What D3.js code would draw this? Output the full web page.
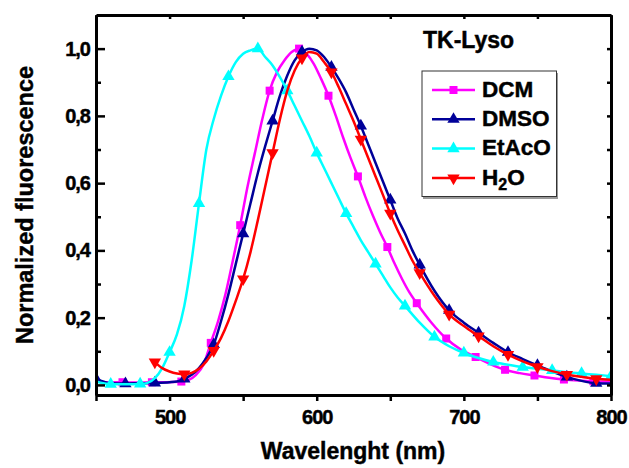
<!DOCTYPE html>
<html>
<head>
<meta charset="utf-8">
<script src="https://cdn.jsdelivr.net/npm/d3@7/dist/d3.min.js"></script>
<style>
  html, body { margin: 0; padding: 0; background: #fff; }
  svg { display: block; font-family: "Liberation Sans", Arial, sans-serif; }
  .heavy { stroke: #000; stroke-width: 0.45px; paint-order: stroke; }
</style>
</head>
<body>
<svg id="chart" width="629" height="468"></svg>
<script>
// Emission spectra of TK-Lyso in four solvents (normalized)
const dcmWl  = [450,458,468,478,488,498,508,513,518,523,528,533,538,543,548,553,558,563,568,573,578,583,588,593,598,603,608,613,618,623,628,633,638,643,648,653,658,663,668,678,688,698,708,718,728,738,748,758,768,778,788,800];
const dcmVal = [0.010,0.008,0.008,0.007,0.008,0.008,0.010,0.015,0.030,0.060,0.125,0.190,0.270,0.370,0.475,0.590,0.690,0.790,0.875,0.930,0.965,0.990,1.000,0.985,0.955,0.910,0.860,0.800,0.735,0.675,0.620,0.560,0.505,0.455,0.410,0.360,0.315,0.275,0.243,0.185,0.138,0.105,0.083,0.062,0.045,0.035,0.028,0.021,0.016,0.013,0.011,0.010];
const dcmMarks = [468,488,508,528,548,568,588,608,628,648,668,688,708,728,748,768,788];

const dmsoWl  = [450,460,470,480,490,500,505,510,515,520,525,530,535,540,545,550,555,560,565,570,575,580,585,590,595,600,605,610,615,620,625,630,635,640,645,650,655,660,665,670,680,690,700,710,720,730,740,750,760,770,780,790,800];
const dmsoVal = [0.018,0.005,0.004,0.005,0.006,0.008,0.010,0.018,0.030,0.050,0.080,0.120,0.190,0.270,0.360,0.450,0.540,0.630,0.710,0.785,0.860,0.920,0.965,0.990,1.000,0.995,0.975,0.945,0.910,0.870,0.820,0.770,0.715,0.660,0.605,0.550,0.495,0.450,0.400,0.357,0.280,0.222,0.185,0.155,0.125,0.097,0.077,0.058,0.040,0.024,0.012,0.005,0.004];
const dmsoMarks = [450,470,490,510,530,550,570,590,610,630,650,670,690,710,730,750,770,790];

const etacoWl  = [450,460,470,480,485,490,495,500,505,510,515,520,525,530,535,540,545,550,555,560,565,570,575,580,585,590,595,600,605,610,615,620,625,630,635,640,645,650,655,660,670,680,690,700,710,720,730,740,750,760,770,780,790,800];
const etacoVal = [0.010,0.002,0.002,0.003,0.006,0.020,0.050,0.097,0.150,0.235,0.370,0.540,0.700,0.790,0.860,0.917,0.960,0.985,0.995,1.000,0.975,0.950,0.915,0.875,0.830,0.785,0.740,0.690,0.645,0.600,0.555,0.510,0.470,0.430,0.395,0.360,0.325,0.290,0.260,0.235,0.185,0.143,0.115,0.095,0.080,0.068,0.060,0.053,0.048,0.043,0.038,0.034,0.030,0.026];
const etacoMarks = [460,480,500,520,540,560,580,600,620,640,660,680,700,720,740,760,780,800];

const h2oWl  = [490,495,500,505,510,515,520,525,530,535,540,545,550,555,560,565,570,575,580,585,590,595,600,605,610,615,620,625,630,635,640,645,650,655,660,665,670,680,690,700,710,720,730,740,750,760,770,780,790,800];
const h2oVal = [0.068,0.050,0.040,0.034,0.032,0.036,0.048,0.070,0.102,0.140,0.190,0.250,0.315,0.395,0.490,0.590,0.690,0.790,0.875,0.935,0.972,0.990,0.985,0.960,0.930,0.885,0.835,0.785,0.730,0.675,0.620,0.565,0.510,0.460,0.415,0.370,0.333,0.265,0.210,0.175,0.145,0.115,0.090,0.070,0.054,0.041,0.031,0.024,0.018,0.015];
const h2oMarks = [490,510,530,550,570,590,610,630,650,670,690,710,730,750,770,790];

const seriesNames = ["DCM", "DMSO", "EtAcO", "H2O"];

const xMajorTicks = [500, 600, 700, 800];
const xTickLabels = ["500", "600", "700", "800"];
const xMinorTicks = [450, 550, 650, 750];
const yMajorTicks = [0, 0.2, 0.4, 0.6, 0.8, 1.0];
const yTickLabels = ["0,0", "0,2", "0,4", "0,6", "0,8", "1,0"];
const yMinorTicks = [0.1, 0.3, 0.5, 0.7, 0.9];

// Layout
const svg = d3.select("#chart");
const L = 96, R = 611, T = 15, B = 395;
const x = d3.scaleLinear().domain([450, 800]).range([L, R]);
const y = d3.scaleLinear().domain([-0.03, 1.1]).range([B, T]);

const styles = {
  DCM:   { color: "#ff00ff", symbol: d3.symbolSquare,   size: 64, rot: 0 },
  DMSO:  { color: "#000099", symbol: d3.symbolTriangle, size: 66, rot: 0 },
  EtAcO: { color: "#00ffff", symbol: d3.symbolTriangle, size: 66, rot: 0 },
  H2O:   { color: "#ff0000", symbol: d3.symbolTriangle, size: 66, rot: 180 }
};

const series = [
  { name: "DCM",   wl: dcmWl,   val: dcmVal,   marks: dcmMarks },
  { name: "DMSO",  wl: dmsoWl,  val: dmsoVal,  marks: dmsoMarks },
  { name: "EtAcO", wl: etacoWl, val: etacoVal, marks: etacoMarks },
  { name: "H2O",   wl: h2oWl,   val: h2oVal,   marks: h2oMarks }
];

svg.append("defs").append("clipPath").attr("id", "plotClip")
  .append("rect").attr("x", L).attr("y", T).attr("width", R - L).attr("height", B - T);

const line = d3.line().x(d => x(d[0])).y(d => y(d[1])).curve(d3.curveMonotoneX);

const plot = svg.append("g").attr("clip-path", "url(#plotClip)");
series.forEach(s => {
  const st = styles[s.name];
  const pts = s.wl.map((w, i) => [w, s.val[i]]);
  plot.append("path").datum(pts)
    .attr("d", line)
    .attr("fill", "none")
    .attr("stroke", st.color)
    .attr("stroke-width", 2.5)
    .attr("stroke-linejoin", "round");
  const markPts = pts.filter(p => s.marks.includes(p[0]));
  plot.selectAll(null).data(markPts).enter().append("path")
    .attr("d", d3.symbol().type(st.symbol).size(st.size))
    .attr("transform", d => `translate(${x(d[0])},${y(d[1])}) rotate(${st.rot})`)
    .attr("fill", st.color);
});

// Axes
const axisStyle = g => {
  g.selectAll("path.domain").attr("stroke", "#000").attr("stroke-width", 3);
  g.selectAll(".tick line").attr("stroke", "#000").attr("stroke-width", 2.5);
};
const labelStyle = g => g.selectAll("text")
  .attr("font-size", 20).attr("font-weight", "bold").attr("fill", "#000")
  .attr("letter-spacing", -1).attr("class", "heavy")
  .attr("font-family", "Liberation Sans, Arial, sans-serif");

// bottom: outward ticks with labels
svg.append("g").attr("transform", `translate(0,${B})`)
  .call(d3.axisBottom(x).tickValues(xMajorTicks).tickSize(6).tickSizeOuter(0)
    .tickFormat((d, i) => xTickLabels[i]))
  .call(axisStyle)
  .call(labelStyle)
  .call(g => g.selectAll("text").attr("dy", "1.0em"));
svg.append("g").attr("transform", `translate(0,${B})`)
  .call(d3.axisBottom(x).tickValues(xMinorTicks).tickSize(6).tickFormat(""))
  .call(axisStyle).call(g => g.select(".domain").remove());

// left: inward ticks with labels
svg.append("g").attr("transform", `translate(${L},0)`)
  .call(d3.axisLeft(y).tickValues(yMajorTicks).tickSizeInner(-9).tickSizeOuter(0)
    .tickFormat((d, i) => yTickLabels[i]))
  .call(axisStyle)
  .call(labelStyle)
  .call(g => g.selectAll("text").attr("x", -6));
svg.append("g").attr("transform", `translate(${L},0)`)
  .call(d3.axisLeft(y).tickValues(yMinorTicks).tickSizeInner(-5).tickFormat(""))
  .call(axisStyle).call(g => g.select(".domain").remove());

// top and right: short inward ticks
svg.append("g").attr("transform", `translate(0,${T})`)
  .call(d3.axisTop(x).tickValues(xMajorTicks.concat(xMinorTicks)).tickSizeInner(-4).tickSizeOuter(0).tickFormat(""))
  .call(axisStyle);
svg.append("g").attr("transform", `translate(${R},0)`)
  .call(d3.axisRight(y).tickValues(yMajorTicks.concat(yMinorTicks)).tickSizeInner(-4).tickSizeOuter(0).tickFormat(""))
  .call(axisStyle);

// Axis titles
svg.append("text")
  .attr("class", "heavy")
  .attr("x", 353).attr("y", 459)
  .attr("text-anchor", "middle")
  .attr("font-size", 23).attr("font-weight", "bold")
  .text("Wavelenght (nm)");
svg.append("text")
  .attr("class", "heavy")
  .attr("transform", "translate(33,205) rotate(-90)")
  .attr("text-anchor", "middle")
  .attr("font-size", 23.5).attr("font-weight", "bold")
  .text("Normalized fluorescence");

// Title inside plot
svg.append("text")
  .attr("class", "heavy")
  .attr("x", 423).attr("y", 48)
  .attr("font-size", 23).attr("font-weight", "bold")
  .text("TK-Lyso");

// Legend
const lg = svg.append("g");
lg.append("rect").attr("x", 423).attr("y", 73).attr("width", 135).attr("height", 126)
  .attr("fill", "#999");
lg.append("rect").attr("x", 422).attr("y", 71).attr("width", 134.5).attr("height", 125.5)
  .attr("fill", "#fff").attr("stroke", "#333").attr("stroke-width", 1);
const rowY = [90, 119.3, 148.6, 178];
series.forEach((s, i) => {
  const st = styles[s.name];
  const yy = rowY[i];
  lg.append("line").attr("x1", 432).attr("x2", 475).attr("y1", yy).attr("y2", yy)
    .attr("stroke", st.color).attr("stroke-width", 2.5);
  lg.append("path")
    .attr("d", d3.symbol().type(st.symbol).size(st.size))
    .attr("transform", `translate(453.5,${yy}) rotate(${st.rot})`)
    .attr("fill", st.color);
  const t = lg.append("text").attr("class", "heavy").attr("x", 482).attr("y", yy + 6.5)
    .attr("font-size", 22.5).attr("font-weight", "bold");
  if (s.name === "H2O") {
    t.append("tspan").text("H");
    t.append("tspan").attr("font-size", 16).attr("dy", 5).text("2");
    t.append("tspan").attr("dy", -5).text("O");
  } else {
    t.text(s.name);
  }
});
</script>
</body>
</html>
